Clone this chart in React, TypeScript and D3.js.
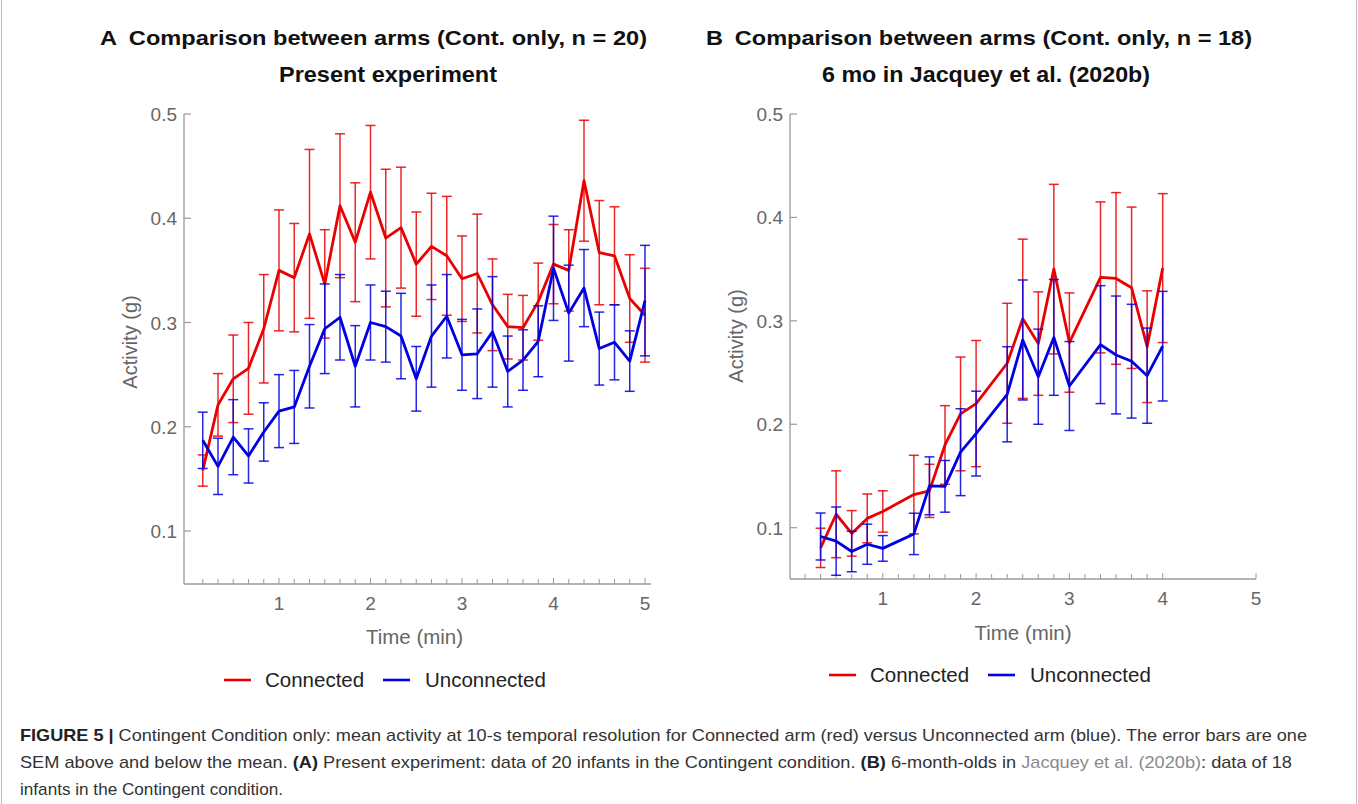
import React from 'react';
import * as d3 from 'd3';

// Panel A: 10-s bins, present experiment (n = 20)
const timeA = [10, 20, 30, 40, 50, 60, 70, 80, 90, 100, 110, 120, 130, 140, 150, 160, 170, 180, 190, 200, 210, 220, 230, 240, 250, 260, 270, 280, 290, 300];
const connectedA = [0.158, 0.221, 0.246, 0.256, 0.294, 0.350, 0.343, 0.385, 0.337, 0.412, 0.377, 0.425, 0.381, 0.391, 0.356, 0.373, 0.364, 0.342, 0.347, 0.317, 0.296, 0.295, 0.320, 0.356, 0.350, 0.436, 0.367, 0.364, 0.323, 0.307];
const connectedSemA = [0.015, 0.030, 0.042, 0.044, 0.052, 0.058, 0.052, 0.081, 0.052, 0.069, 0.057, 0.064, 0.066, 0.058, 0.050, 0.051, 0.057, 0.041, 0.057, 0.044, 0.031, 0.031, 0.037, 0.038, 0.039, 0.058, 0.050, 0.047, 0.042, 0.045];
const unconnectedA = [0.187, 0.162, 0.190, 0.172, 0.195, 0.215, 0.219, 0.258, 0.294, 0.305, 0.258, 0.300, 0.296, 0.287, 0.246, 0.287, 0.306, 0.269, 0.270, 0.291, 0.253, 0.264, 0.282, 0.352, 0.309, 0.333, 0.275, 0.281, 0.263, 0.321];
const unconnectedSemA = [0.027, 0.027, 0.036, 0.026, 0.028, 0.035, 0.035, 0.040, 0.043, 0.041, 0.039, 0.036, 0.034, 0.041, 0.031, 0.049, 0.040, 0.034, 0.043, 0.053, 0.034, 0.029, 0.034, 0.050, 0.046, 0.037, 0.035, 0.036, 0.029, 0.053];

// Panel B: 6 mo in Jacquey et al. (2020b) (n = 18)
const timeB = [20, 30, 40, 50, 60, 80, 90, 100, 110, 120, 140, 150, 160, 170, 180, 200, 210, 220, 230, 240];
const connectedB = [0.0805, 0.113, 0.0945, 0.109, 0.1157, 0.132, 0.1356, 0.180, 0.210, 0.220, 0.259, 0.302, 0.278, 0.350, 0.279, 0.342, 0.341, 0.332, 0.275, 0.351];
const connectedSemB = [0.019, 0.042, 0.022, 0.0236, 0.020, 0.038, 0.0257, 0.038, 0.055, 0.061, 0.058, 0.077, 0.050, 0.082, 0.048, 0.073, 0.083, 0.078, 0.054, 0.072];
const unconnectedB = [0.0915, 0.087, 0.077, 0.084, 0.080, 0.094, 0.1405, 0.140, 0.173, 0.191, 0.229, 0.2815, 0.246, 0.284, 0.237, 0.277, 0.267, 0.261, 0.247, 0.2755];
const unconnectedSemB = [0.0227, 0.033, 0.0196, 0.0194, 0.0124, 0.020, 0.028, 0.025, 0.042, 0.041, 0.046, 0.058, 0.046, 0.056, 0.043, 0.057, 0.057, 0.055, 0.046, 0.053];

const xTickLabels = [1, 2, 3, 4, 5];
const yTickLabels = [0.1, 0.2, 0.3, 0.4, 0.5];
const minorTicksA = d3.range(10, 301, 10);
const minorTicksB = [...d3.range(10, 241, 10), 300];

const RED = '#ea0000';
const BLUE = '#0000e2';
const AXIS = '#9a9a9a';
const LABEL = '#666';
const FONT = '"Liberation Sans", Arial, Helvetica, sans-serif';

type PanelProps = {
    letter: string;
    title: string;
    subtitle: string;
    times: number[];
    red: number[];
    redSem: number[];
    blue: number[];
    blueSem: number[];
    minorTicks: number[];
    x0: number; x5: number; axisLeft: number; axisRight: number;
    y01: number; y05: number; axisBottom: number;
    titleX: number; titleEnd: number; subX: number; subEnd: number;
    yTitleX: number; yTitleY: number; xTitleY: number; xLabelY: number;
    legendX: number; legendY: number;
};

const Series = ({ times, mean, sem, color, x, y }: any) => {
    const line = d3.line<number>()
        .x((_, i) => x(times[i] / 60))
        .y(d => y(d));
    return (
        <g>
            {mean.map((m: number, i: number) => {
                const cx = x(times[i] / 60);
                const hi = y(m + sem[i]);
                const lo = y(m - sem[i]);
                return (
                    <g key={i} stroke={color} strokeWidth={1.5} strokeOpacity={0.85}>
                        <line x1={cx} x2={cx} y1={hi} y2={lo} />
                        <line x1={cx - 5} x2={cx + 5} y1={hi} y2={hi} />
                        <line x1={cx - 5} x2={cx + 5} y1={lo} y2={lo} />
                    </g>
                );
            })}
            <path d={line(mean) || ''} fill="none" stroke={color} strokeWidth={2.8} strokeLinejoin="round" />
        </g>
    );
};

const Panel = (p: PanelProps) => {
    const x = d3.scaleLinear().domain([0, 5]).range([p.x0, p.x5]);
    const y = d3.scaleLinear().domain([0.1, 0.5]).range([p.y01, p.y05]);
    const midX = (p.axisLeft + p.x5) / 2;
    return (
        <g fontFamily={FONT}>
            {/* titles */}
            <text x={p.titleX} y={45} fontSize={21} fontWeight="bold" fill="#111"
                textLength={p.titleEnd - p.titleX} lengthAdjust="spacingAndGlyphs">
                {p.letter}{'\u2002'}{p.title}
            </text>
            <text x={p.subX} y={82} fontSize={21.5} fontWeight="bold" fill="#111"
                textLength={p.subEnd - p.subX} lengthAdjust="spacingAndGlyphs">
                {p.subtitle}
            </text>

            {/* axes */}
            <line x1={p.axisLeft} x2={p.axisLeft} y1={p.y05} y2={p.axisBottom} stroke={AXIS} strokeWidth={1.3} />
            <line x1={p.axisLeft} x2={p.axisRight} y1={p.axisBottom} y2={p.axisBottom} stroke={AXIS} strokeWidth={1.3} />
            {yTickLabels.map(t => (
                <g key={t}>
                    <line x1={p.axisLeft} x2={p.axisLeft + 7} y1={y(t)} y2={y(t)} stroke={AXIS} strokeWidth={1.2} />
                    <text x={p.axisLeft - 7} y={y(t) + 7} fontSize={19} fill={LABEL} textAnchor="end">{t}</text>
                </g>
            ))}
            {p.minorTicks.map(s => (
                <line key={s} x1={x(s / 60)} x2={x(s / 60)} y1={p.axisBottom} y2={p.axisBottom - (s % 60 === 0 ? 6 : 5)}
                    stroke={AXIS} strokeWidth={1} />
            ))}
            {xTickLabels.map(t => (
                <text key={t} x={x(t)} y={p.xLabelY} fontSize={19} fill={LABEL} textAnchor="middle">{t}</text>
            ))}
            <text x={midX} y={p.xTitleY} fontSize={20.5} fill={LABEL} textAnchor="middle">Time (min)</text>
            <text transform={`translate(${p.yTitleX},${p.yTitleY}) rotate(-90)`} fontSize={20} fill={LABEL} textAnchor="middle">
                Activity (g)
            </text>

            {/* data */}
            <Series times={p.times} mean={p.red} sem={p.redSem} color={RED} x={x} y={y} />
            <Series times={p.times} mean={p.blue} sem={p.blueSem} color={BLUE} x={x} y={y} />

            {/* legend */}
            <line x1={p.legendX} x2={p.legendX + 27} y1={p.legendY} y2={p.legendY} stroke={RED} strokeWidth={2.6} />
            <text x={p.legendX + 41} y={p.legendY + 7} fontSize={20.5} fill="#222">Connected</text>
            <line x1={p.legendX + 159} x2={p.legendX + 186} y1={p.legendY} y2={p.legendY} stroke={BLUE} strokeWidth={2.6} />
            <text x={p.legendX + 201} y={p.legendY + 7} fontSize={20.5} fill="#222">Unconnected</text>
        </g>
    );
};

const App = () => {
    return (
        <svg width={1358} height={804} style={{ position: 'absolute', left: 0, top: 0, background: '#fff' }}>
            <rect x={0} y={0} width={1358} height={804} fill="#fff" />
            <Panel letter="A" title="Comparison between arms (Cont. only, n = 20)" subtitle="Present experiment"
                times={timeA} red={connectedA} redSem={connectedSemA} blue={unconnectedA} blueSem={unconnectedSemA}
                minorTicks={minorTicksA}
                x0={187.5} x5={645} axisLeft={184} axisRight={651}
                y01={531} y05={114} axisBottom={584}
                titleX={100} titleEnd={647} subX={279} subEnd={497}
                yTitleX={137} yTitleY={342} xTitleY={644} xLabelY={610}
                legendX={224} legendY={680} />
            <Panel letter="B" title="Comparison between arms (Cont. only, n = 18)" subtitle="6 mo in Jacquey et al. (2020b)"
                times={timeB} red={connectedB} redSem={connectedSemB} blue={unconnectedB} blueSem={unconnectedSemB}
                minorTicks={minorTicksB}
                x0={789.5} x5={1256} axisLeft={790} axisRight={1256}
                y01={527.7} y05={114} axisBottom={579}
                titleX={706} titleEnd={1252} subX={822} subEnd={1150}
                yTitleX={743} yTitleY={336} xTitleY={640} xLabelY={605}
                legendX={829} legendY={675} />

            {/* caption */}
            <g fontFamily={FONT} fontSize={17} fill="#333">
                <text x={20} y={741} textLength={1287} lengthAdjust="spacingAndGlyphs">
                    <tspan fontWeight="bold" fill="#222">FIGURE 5 | </tspan>
                    Contingent Condition only: mean activity at 10-s temporal resolution for Connected arm (red) versus Unconnected arm (blue). The error bars are one
                </text>
                <text x={20} y={768} textLength={1272} lengthAdjust="spacingAndGlyphs">
                    SEM above and below the mean. <tspan fontWeight="bold" fill="#222">(A)</tspan> Present experiment: data of 20 infants in the Contingent condition. <tspan fontWeight="bold" fill="#222">(B)</tspan> 6-month-olds in <tspan fill="#8a8a8a">Jacquey et al. (2020b)</tspan>: data of 18
                </text>
                <text x={20} y={795} textLength={263} lengthAdjust="spacingAndGlyphs">
                    infants in the Contingent condition.
                </text>
            </g>
            <line x1={1.5} x2={1.5} y1={0} y2={804} stroke="#bbb" strokeWidth={1} />
            <line x1={1356.5} x2={1356.5} y1={0} y2={804} stroke="#bbb" strokeWidth={1} />
        </svg>
    );
};

export default App;
